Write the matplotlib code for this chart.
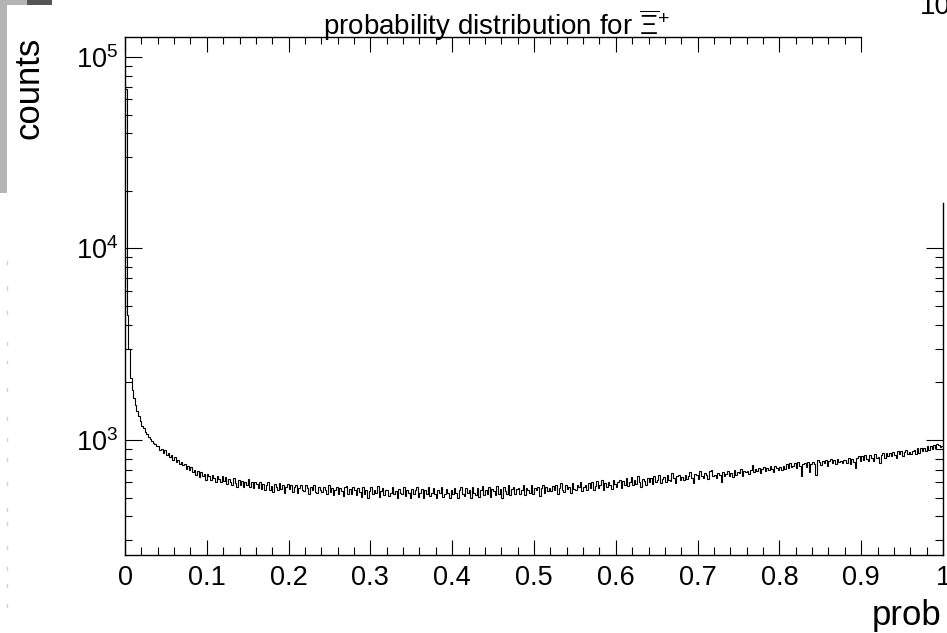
import matplotlib.pyplot as plt
import numpy as np
from matplotlib.patches import Rectangle
from matplotlib.lines import Line2D
from matplotlib.ticker import FixedLocator, NullFormatter, MultipleLocator, LogLocator

plt.rcParams['font.family'] = ['Liberation Sans', 'DejaVu Sans']
plt.rcParams['mathtext.fontset'] = 'custom'
plt.rcParams['mathtext.rm'] = 'Liberation Sans'
plt.rcParams['mathtext.it'] = 'Liberation Sans:italic'

# histogram: 500 bins between 0 and 1, counts
x_min, x_max = 0.0, 1.0
counts = [
    68000, 4500, 3000, 2100, 1820, 1660, 1520, 1420, 1330, 1250, 1190, 1150, 1100, 1070, 1040, 1010, 990, 970, 950, 935,
    930, 885, 900, 860, 885, 830, 850, 815, 830, 790, 815, 770, 790, 745, 765, 740, 745, 705, 735, 700,
    720, 680, 700, 655, 690, 640, 680, 650, 665, 620, 665, 650, 615, 655, 635, 600, 650, 625, 605, 645,
    610, 640, 590, 625, 600, 580, 630, 595, 570, 615, 585, 610, 565, 605, 585, 625, 570, 600, 560, 605,
    590, 560, 600, 555, 590, 545, 580, 600, 550, 575, 535, 590, 565, 545, 595, 555, 580, 530, 570, 590,
    555, 585, 535, 565, 580, 530, 560, 585, 545, 540, 580, 560, 525, 570, 550, 580, 535, 530, 570, 550,
    535, 570, 545, 525, 580, 535, 560, 515, 550, 570, 525, 560, 540, 510, 565, 575, 525, 555, 520, 565,
    545, 515, 560, 535, 505, 570, 525, 550, 500, 540, 565, 520, 550, 530, 575, 505, 540, 560, 515, 550,
    545, 510, 530, 570, 520, 540, 500, 555, 530, 520, 565, 510, 545, 530, 500, 555, 520, 545, 565, 505,
    530, 555, 500, 545, 520, 565, 510, 530, 560, 520, 495, 545, 530, 570, 505, 520, 555, 530, 500, 545,
    520, 560, 530, 500, 545, 570, 520, 510, 560, 530, 545, 500, 570, 530, 515, 560, 505, 545, 575, 515,
    545, 525, 565, 505, 555, 540, 515, 575, 525, 555, 500, 570, 540, 525, 580, 515, 555, 565, 520, 555,
    560, 520, 550, 580, 515, 560, 545, 530, 585, 520, 560, 545, 570, 510, 560, 585, 530, 570, 540, 560,
    540, 575, 550, 585, 525, 560, 595, 545, 535, 580, 555, 570, 530, 595, 555, 545, 580, 565, 600, 540,
    565, 580, 545, 595, 560, 600, 550, 575, 610, 560, 585, 615, 550, 595, 570, 605, 580, 555, 615, 590,
    570, 600, 620, 560, 610, 585, 630, 575, 605, 640, 580, 615, 590, 645, 600, 570, 625, 610, 585, 635,
    600, 630, 590, 645, 605, 620, 655, 595, 625, 640, 600, 660, 620, 610, 670, 630, 595, 645, 660, 615,
    640, 615, 660, 625, 645, 680, 630, 595, 665, 655, 625, 685, 650, 635, 675, 660, 625, 685, 695, 645,
    655, 630, 670, 660, 605, 680, 645, 665, 690, 650, 675, 640, 700, 660, 680, 670, 705, 650, 690, 680,
    690, 665, 700, 740, 680, 705, 690, 715, 675, 705, 725, 685, 710, 695, 730, 705, 680, 735, 710, 695,
    720, 695, 730, 705, 750, 715, 760, 720, 730, 755, 715, 770, 735, 645, 745, 760, 720, 770, 680, 745,
    770, 745, 660, 785, 765, 740, 780, 755, 790, 735, 775, 800, 760, 785, 750, 800, 770, 780, 755, 790,
    790, 760, 805, 750, 800, 770, 715, 805, 820, 780, 825, 790, 830, 800, 780, 835, 805, 780, 840, 810,
    815, 760, 830, 850, 810, 850, 820, 860, 825, 865, 835, 810, 875, 840, 880, 825, 865, 885, 840, 870,
    845, 880, 890, 840, 905, 860, 905, 875, 910, 880, 925, 885, 930, 900, 940, 905, 950, 945, 915, 930,
]
y_min, y_max = 250.8, 127200.0
x_major = [0, 0.1, 0.2, 0.3, 0.4, 0.5, 0.6, 0.7, 0.8, 0.9, 1]
x_labels = ['0', '0.1', '0.2', '0.3', '0.4', '0.5', '0.6', '0.7', '0.8', '0.9', '1']

W, H = 947, 633
fig = plt.figure(figsize=(W / 100, H / 100), dpi=100)
fig.patch.set_facecolor('white')


def fx(px):
    return px / W


def fy(py):
    return 1 - py / H


ax = fig.add_axes([fx(125), fy(555), 818 / W, 518 / H])
edges = np.linspace(x_min, x_max, len(counts) + 1)
ax.stairs(counts, edges, baseline=None, color='black', linewidth=0.8)

ax.set_yscale('log')
ax.set_xlim(x_min, x_max)
ax.set_ylim(y_min, y_max)

ax.set_xticks(x_major)
ax.set_xticklabels(x_labels)
ax.xaxis.set_minor_locator(MultipleLocator(0.02))
ax.yaxis.set_major_locator(LogLocator(base=10))
ax.yaxis.set_minor_locator(LogLocator(base=10, subs=np.arange(2, 10)))
ax.yaxis.set_minor_formatter(NullFormatter())
ax.tick_params(which='both', direction='in', top=False, right=False, labelsize=19.5, width=0.8, color='black')
ax.tick_params(axis='x', which='major', length=11, pad=7)
ax.tick_params(axis='x', which='minor', length=6)
ax.tick_params(axis='y', which='major', length=12, pad=5)
ax.tick_params(axis='y', which='minor', length=5)
ax.spines['top'].set_visible(False)
ax.spines['right'].set_visible(False)
for s in ['left', 'bottom']:
    ax.spines[s].set_linewidth(1.0)

# top frame stops at 0.9
sx = ax.secondary_xaxis('top')
sx.xaxis.set_major_locator(FixedLocator(x_major[:-1]))
sx.xaxis.set_minor_locator(FixedLocator([v for v in np.arange(0, 0.901, 0.02)]))
sx.xaxis.set_major_formatter(NullFormatter())
sx.tick_params(which='both', direction='in', width=0.8)
sx.tick_params(which='major', length=11)
sx.tick_params(which='minor', length=5)
sx.spines['top'].set_bounds(0, 0.9)
sx.spines['top'].set_linewidth(1.0)

# right frame only in the lower part
right_top = 17280.0
sy = ax.secondary_yaxis('right')
sy.yaxis.set_major_locator(FixedLocator([1e3, 1e4]))
sy.yaxis.set_minor_locator(FixedLocator([m * 10 ** e for e in (2, 3) for m in range(2, 10) if m * 10 ** e > y_min]))
sy.yaxis.set_major_formatter(NullFormatter())
sy.yaxis.set_minor_formatter(NullFormatter())
sy.tick_params(which='both', direction='in', width=0.8)
sy.tick_params(which='major', length=12)
sy.tick_params(which='minor', length=6)
sy.spines['right'].set_bounds(y_min, right_top)
sy.spines['right'].set_linewidth(1.0)

fig.text(fx(323), fy(35), r'probability distribution for $\overline{\Xi}^{+}$', fontsize=20, ha='left', va='baseline')
fig.text(fx(941), fy(625), 'prob', fontsize=25, ha='right', va='baseline')
fig.text(fx(45), fy(37), 'counts', fontsize=25, rotation=90, ha='right', va='top')
fig.text(fx(920), fy(14), '10', fontsize=20, ha='left', va='baseline')

# bits of the neighbouring pad on the left edge
fig.add_artist(Rectangle((0, fy(193)), fx(7), 193 / H, transform=fig.transFigure, color='#b4b4b4', lw=0))
fig.add_artist(Rectangle((0, fy(5)), fx(27), 5 / H, transform=fig.transFigure, color='#b4b4b4', lw=0))
fig.add_artist(Rectangle((fx(27), fy(5)), fx(25), 5 / H, transform=fig.transFigure, color='#555555', lw=0))
dash_y = [262, 288, 312, 343, 362, 389, 418, 439, 459, 483, 509, 523, 547, 568, 585, 605]
for yy in dash_y:
    fig.add_artist(Line2D([fx(6.5), fx(6.5)], [fy(yy - 1.5), fy(yy + 1.5)], transform=fig.transFigure,
                          color='#d2d2d2', linewidth=1))

fig.savefig('out.png', dpi=100)
